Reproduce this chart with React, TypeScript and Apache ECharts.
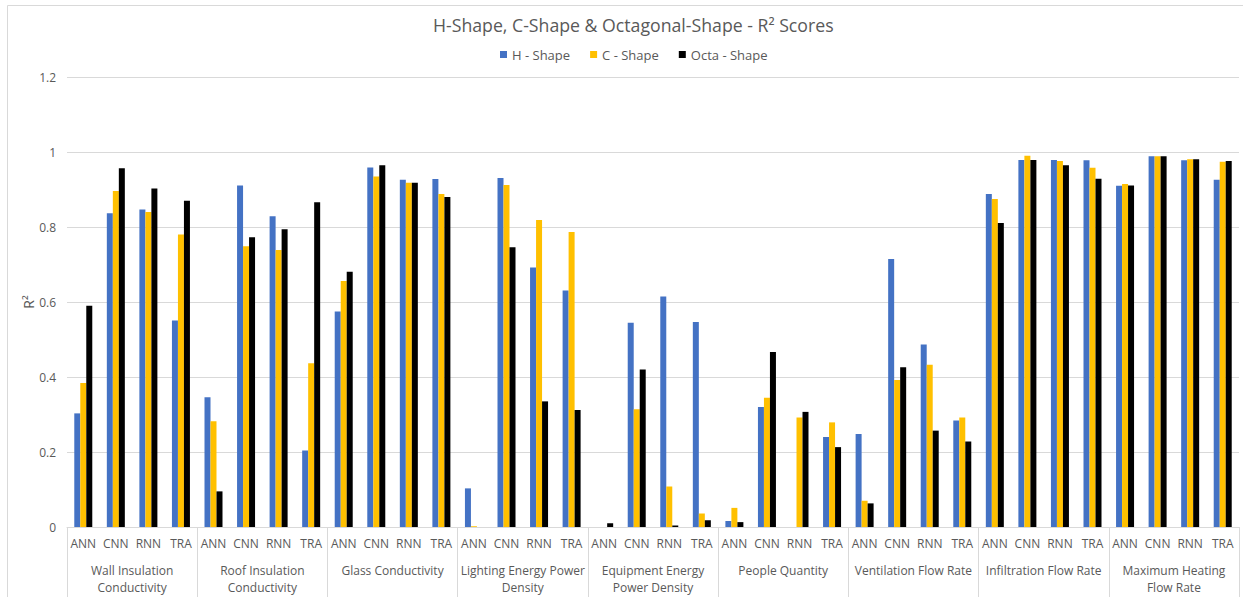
import React, { useEffect, useRef } from "react";
import * as echarts from "echarts";

// Building-parameter groups (line breaks follow the wrapped axis labels)
const groups = [
  "Wall Insulation\nConductivity",
  "Roof Insulation\nConductivity",
  "Glass Conductivity",
  "Lighting Energy Power\nDensity",
  "Equipment Energy\nPower Density",
  "People Quantity",
  "Ventilation Flow Rate",
  "Infiltration Flow Rate",
  "Maximum Heating\nFlow Rate",
];

const models = ["ANN", "CNN", "RNN", "TRA"];

const seriesNames = ["H - Shape", "C - Shape", "Octa - Shape"];

// R² scores, four models per group, in group order
const hShape = [
  0.303, 0.837, 0.847, 0.551,
  0.346, 0.911, 0.829, 0.204,
  0.575, 0.959, 0.926, 0.928,
  0.103, 0.931, 0.692, 0.631,
  0.0, 0.545, 0.615, 0.547,
  0.016, 0.32, 0.0, 0.24,
  0.248, 0.715, 0.487, 0.284,
  0.888, 0.979, 0.979, 0.978,
  0.91, 0.989, 0.978, 0.926,
];

const cShape = [
  0.384, 0.896, 0.84, 0.78,
  0.282, 0.749, 0.739, 0.437,
  0.656, 0.935, 0.918, 0.888,
  0.002, 0.912, 0.819, 0.787,
  0.0, 0.314, 0.108, 0.036,
  0.051, 0.345, 0.292, 0.279,
  0.07, 0.392, 0.433, 0.292,
  0.875, 0.99, 0.976, 0.958,
  0.915, 0.989, 0.981, 0.974,
];

const octaShape = [
  0.59, 0.957, 0.903, 0.87,
  0.095, 0.773, 0.794, 0.866,
  0.681, 0.965, 0.918, 0.88,
  0.0, 0.746, 0.335, 0.312,
  0.01, 0.42, 0.004, 0.018,
  0.013, 0.467, 0.307, 0.213,
  0.063, 0.426, 0.257, 0.228,
  0.811, 0.979, 0.965, 0.929,
  0.911, 0.989, 0.981, 0.976,
];

const colors = ["#4472C4", "#FFC000", "#000000"];

const FONT = "'Open Sans', 'Noto Sans', sans-serif";
const TEXT = "#595959";
const LINE = "#d9d9d9";

export default function App() {
  const ref = useRef<HTMLDivElement>(null);

  useEffect(() => {
    if (!ref.current) return;
    const chart = echarts.init(ref.current, null, { renderer: "svg" });

    const modelCategories = groups.flatMap(() => models);
    const values = [hShape, cShape, octaShape];

    chart.setOption({
      animation: false,
      backgroundColor: "#ffffff",
      textStyle: { fontFamily: FONT },
      title: {
        text: "H-Shape, C-Shape & Octagonal-Shape - R² Scores",
        left: 428,
        top: 11,
        textStyle: {
          fontFamily: FONT,
          fontSize: 17.7,
          fontWeight: "normal",
          color: TEXT,
        },
      },
      legend: {
        top: 43,
        left: 495,
        icon: "rect",
        itemWidth: 7,
        itemHeight: 7,
        itemGap: 20,
        textStyle: { fontFamily: FONT, fontSize: 13, color: TEXT },
        data: seriesNames,
      },
      graphic: [
        {
          type: "rect",
          silent: true,
          z: -1,
          shape: { x: 7.5, y: 5.5, width: 1300, height: 700 },
          style: { fill: "none", stroke: LINE, lineWidth: 1 },
        },
      ],
      grid: { left: 67, right: 4, top: 77, bottom: 70 },
      xAxis: [
        {
          type: "category",
          data: modelCategories,
          position: "bottom",
          axisLine: { show: true, lineStyle: { color: LINE, width: 1 } },
          axisTick: { show: false },
          axisLabel: {
            interval: 0,
            margin: 10,
            fontFamily: FONT,
            fontSize: 12,
            color: TEXT,
          },
        },
        {
          type: "category",
          data: groups,
          position: "bottom",
          offset: 0,
          axisLine: { show: false },
          axisTick: {
            show: true,
            length: 75,
            lineStyle: { color: LINE, width: 1 },
          },
          axisLabel: {
            interval: 0,
            margin: 35,
            fontFamily: FONT,
            fontSize: 12,
            lineHeight: 17,
            color: TEXT,
          },
        },
      ],
      yAxis: {
        type: "value",
        min: 0,
        max: 1.2,
        interval: 0.2,
        name: "R²",
        nameLocation: "middle",
        nameGap: 32,
        nameMoveOverlap: false,
        nameTextStyle: { fontFamily: FONT, fontSize: 14, color: TEXT },
        axisLine: { show: false },
        axisTick: { show: false },
        axisLabel: {
          margin: 11,
          fontFamily: FONT,
          fontSize: 12,
          color: TEXT,
        },
        splitLine: { lineStyle: { color: LINE, width: 1 } },
      },
      series: seriesNames.map((name, i) => ({
        name,
        type: "bar",
        xAxisIndex: 0,
        data: values[i],
        barWidth: 6,
        barGap: "0%",
        itemStyle: { color: colors[i] },
      })),
    });

    return () => chart.dispose();
  }, []);

  return (
    <div
      ref={ref}
      style={{
        position: "absolute",
        left: 0,
        top: 0,
        width: 1243,
        height: 597,
      }}
    />
  );
}
